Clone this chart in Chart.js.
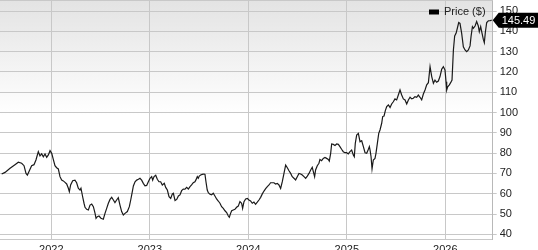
<!DOCTYPE html>
<html><head><meta charset="utf-8">
<script src="https://cdn.jsdelivr.net/npm/chart.js@4/dist/chart.umd.min.js"></script>
<style>html,body{margin:0;padding:0;background:#fff;overflow:hidden}#wrap{width:538px;height:250px;position:relative}</style>
</head><body><div id="wrap"><canvas id="c" width="538" height="250"></canvas></div>
<script>
// decimal years
const dates = [
2021.496,2021.530,2021.581,2021.631,2021.665,2021.699,2021.723,2021.743,2021.757,2021.777,2021.800,2021.824,2021.844,2021.868,2021.885,2021.902,2021.919,2021.936,2021.953,2021.970,2021.987,
2022.004,2022.020,2022.037,2022.054,2022.071,2022.088,2022.105,2022.122,2022.139,2022.156,2022.173,2022.183,2022.196,2022.217,2022.240,2022.257,2022.274,2022.291,2022.301,2022.318,2022.332,2022.342,2022.359,2022.376,2022.393,2022.410,2022.427,2022.444,2022.454,2022.467,2022.484,2022.504,2022.528,2022.545,2022.562,2022.579,2022.596,2022.613,2022.630,2022.646,2022.663,2022.680,2022.697,2022.714,2022.731,2022.748,2022.772,2022.792,2022.806,2022.819,2022.833,2022.850,2022.867,2022.884,2022.900,2022.917,2022.934,2022.951,2022.968,2022.985,
2023.002,2023.019,2023.029,2023.043,2023.060,2023.076,2023.093,2023.110,2023.127,2023.147,2023.161,2023.178,2023.195,2023.212,2023.229,2023.239,2023.256,2023.273,2023.290,
2023.306,2023.323,2023.340,2023.357,2023.374,2023.391,2023.408,2023.424,2023.441,2023.458,2023.468,2023.482,2023.492,2023.502,2023.516,2023.533,2023.550,2023.560,2023.570,2023.583,2023.594,2023.611,2023.627,2023.644,2023.661,2023.678,2023.695,2023.712,2023.729,2023.746,2023.763,2023.780,2023.797,2023.807,2023.820,2023.831,2023.847,2023.864,2023.881,2023.898,2023.915,2023.932,2023.942,2023.956,2023.973,2023.990,
2024.006,2024.023,2024.040,2024.057,2024.074,2024.091,2024.108,2024.125,2024.142,2024.159,2024.176,2024.193,2024.210,2024.226,2024.243,2024.260,2024.277,2024.294,2024.311,2024.328,2024.345,2024.362,2024.379,2024.396,2024.413,2024.430,2024.446,2024.463,2024.480,2024.497,2024.514,2024.531,2024.548,2024.565,2024.582,2024.599,2024.616,2024.633,2024.649,2024.660,2024.673,2024.683,2024.700,2024.717,2024.727,2024.744,2024.761,2024.778,2024.795,2024.812,2024.822,2024.836,2024.846,2024.863,2024.880,2024.897,2024.914,2024.930,2024.947,2024.964,2024.981,2024.998,
2025.015,2025.032,2025.049,2025.066,2025.076,2025.086,2025.100,2025.117,
2025.134,2025.151,2025.168,2025.185,2025.202,2025.219,2025.229,2025.236,2025.246,2025.256,2025.269,2025.286,2025.296,2025.310,2025.324,2025.337,2025.354,2025.364,2025.378,2025.391,2025.405,2025.422,2025.439,2025.455,2025.472,2025.489,2025.506,2025.523,2025.540,2025.557,2025.574,2025.591,2025.608,2025.625,2025.642,2025.659,2025.675,2025.692,2025.709,2025.726,2025.743,2025.760,2025.777,2025.794,2025.811,2025.828,2025.845,2025.862,2025.879,2025.895,2025.912,2025.929,2025.946,2025.963,2025.980,2025.997,
2026.007,2026.014,2026.024,2026.041,2026.054,2026.068,2026.082,2026.095,2026.109,2026.122,2026.136,2026.149,2026.166,2026.183,2026.200,2026.217,2026.234,2026.251,2026.261,2026.275,2026.285,2026.302,2026.318,2026.335,2026.345,2026.359,2026.373,2026.386,2026.396,2026.407,2026.420,2026.437,2026.454,2026.471
];
const prices = [
69.7,70.5,72.5,74.3,75.5,75.0,73.8,70.0,69.2,71.3,73.8,74.3,76.6,80.7,78.6,79.6,78.2,79.6,77.9,79.1,81.2,
79.9,76.9,73.8,72.8,72.2,68.4,66.7,66.3,65.6,64.8,62.7,61.0,64.3,66.4,66.7,65.4,62.7,61.8,62.7,58.5,55.3,53.3,52.3,52.0,54.4,54.9,53.6,50.3,47.9,48.7,49.0,47.9,47.4,50.3,52.8,55.3,57.2,58.2,56.9,55.6,56.9,58.0,54.4,51.2,49.5,50.3,51.2,53.6,56.9,60.2,63.8,65.9,66.7,67.1,67.6,66.7,65.1,63.9,64.1,65.9,
67.6,68.4,66.7,68.4,69.1,67.1,65.9,65.9,64.3,65.1,63.1,61.8,58.5,57.7,59.9,60.2,56.6,57.2,58.9,
59.4,61.5,62.3,62.2,63.1,62.3,63.5,64.3,65.4,65.9,66.8,68.4,67.6,68.7,69.2,69.5,69.7,69.5,65.9,61.8,60.5,59.7,59.4,60.2,58.9,57.4,56.4,55.3,53.6,52.8,51.6,50.7,49.0,48.4,50.3,51.6,52.0,52.3,53.3,53.9,56.1,55.3,52.8,56.1,57.4,57.7,
56.9,56.4,55.3,55.9,54.8,55.8,56.9,58.2,59.9,61.3,62.5,63.5,64.3,65.4,65.4,65.4,64.8,65.1,64.3,62.6,65.9,70.0,74.1,72.8,71.3,70.0,68.4,67.6,66.8,68.4,70.0,69.7,69.2,68.4,67.6,68.7,70.0,71.7,73.0,70.9,68.4,71.7,73.8,75.0,76.9,76.3,77.4,77.9,77.4,76.9,76.1,79.9,84.5,84.3,83.8,84.5,84.3,83.2,81.9,80.7,80.2,80.2,
79.6,80.7,81.5,79.1,78.2,84.8,88.9,89.7,
85.6,86.1,83.2,80.2,79.9,81.9,83.2,81.5,78.2,72.2,76.6,77.4,79.9,84.8,89.7,91.4,94.7,98.0,98.3,100.9,102.9,103.7,102.5,104.2,105.3,106.7,106.2,108.6,111.1,108.6,106.7,106.2,104.2,106.2,107.5,106.7,107.0,107.8,107.5,108.6,107.5,106.2,109.1,111.1,113.6,114.7,122.6,117.7,114.4,116.0,114.9,115.5,117.7,121.3,122.6,120.9,
115.2,111.1,112.7,113.6,114.7,116.0,130.8,137.7,139.0,141.5,144.3,143.9,139.0,132.4,130.8,130.0,130.8,132.8,137.4,142.3,141.5,142.6,144.8,142.6,139.8,142.3,139.0,136.0,134.4,139.8,144.3,145.2,145.2,145.49
];
const yearTicks = [2022, 2023, 2024, 2025, 2026];
const priceTicks = [40, 50, 60, 70, 80, 90, 100, 110, 120, 130, 140, 150];
const seriesLabel = 'Price ($)';
const lastPrice = 145.49;

const FONT = '"Liberation Sans", Arial, sans-serif';

const bgPlugin = {
  id: 'bg',
  beforeDraw(chart) {
    const {ctx, chartArea: a} = chart;
    ctx.save();
    ctx.fillStyle = '#ffffff';
    ctx.fillRect(0, 0, chart.width, chart.height);
    const g = ctx.createLinearGradient(0, a.top, 0, a.top + (a.bottom - a.top) * 0.48);
    g.addColorStop(0, '#e3e3e3');
    g.addColorStop(1, '#ffffff');
    ctx.fillStyle = g;
    ctx.fillRect(a.left, a.top, a.right - a.left, a.bottom - a.top);
    ctx.restore();
  },
  afterDraw(chart) {
    const {ctx, chartArea: a} = chart;
    ctx.save();
    ctx.strokeStyle = '#c8c8c8';
    ctx.lineWidth = 1;
    ctx.beginPath(); ctx.moveTo(a.left, a.top + 0.5); ctx.lineTo(a.right, a.top + 0.5); ctx.stroke();
    // legend
    ctx.fillStyle = '#000';
    ctx.fillRect(429, 9.5, 10, 5);
    ctx.fillStyle = '#222';
    ctx.font = '11px ' + FONT;
    ctx.textBaseline = 'middle';
    ctx.textAlign = 'left';
    ctx.fillText(seriesLabel, 444, 12);
    // last price tag
    const y = chart.scales.y.getPixelForValue(lastPrice);
    const x0 = a.right;
    ctx.fillStyle = '#000';
    ctx.beginPath();
    ctx.moveTo(x0, y);
    ctx.lineTo(x0 + 6, y - 7.5);
    ctx.lineTo(chart.width, y - 7.5);
    ctx.lineTo(chart.width, y + 7.5);
    ctx.lineTo(x0 + 6, y + 7.5);
    ctx.closePath();
    ctx.fill();
    ctx.fillStyle = '#fff';
    ctx.fillText(lastPrice.toFixed(2), x0 + 9, y + 0.5);
    ctx.restore();
  }
};

new Chart(document.getElementById('c'), {
  type: 'line',
  data: {
    datasets: [{
      label: seriesLabel,
      data: dates.map((d, i) => ({x: d, y: prices[i]})),
      borderColor: '#1a1a1a',
      borderWidth: 1.2,
      pointRadius: 0,
      tension: 0,
      fill: false
    }]
  },
  options: {
    responsive: false,
    devicePixelRatio: 1,
    animation: false,
    layout: {padding: 0},
    plugins: {legend: {display: false}, tooltip: {enabled: false}},
    scales: {
      x: {
        type: 'linear',
        min: 2021.479,
        max: 2026.481,
        afterBuildTicks: s => { s.ticks = yearTicks.map(v => ({value: v})); },
        afterFit: s => { s.height = 10.5; s.paddingLeft = 0; s.paddingRight = 0; },
        ticks: {
          callback: v => String(v),
          color: '#222',
          font: {family: FONT, size: 11},
          padding: 4,
          maxRotation: 0,
          autoSkip: false
        },
        grid: {color: '#c8c8c8', drawTicks: false},
        border: {display: true, color: '#c8c8c8'}
      },
      y: {
        position: 'right',
        min: 37.44,
        max: 155.42,
        afterBuildTicks: s => { s.ticks = priceTicks.map(v => ({value: v})); },
        afterFit: s => { s.width = 45.3; s.paddingTop = 0; s.paddingBottom = 0; },
        ticks: {
          callback: v => String(v),
          color: '#222',
          font: {family: FONT, size: 11},
          padding: 3
        },
        grid: {color: '#c8c8c8', tickLength: 4},
        border: {display: true, color: '#b8b8b8'}
      }
    }
  },
  plugins: [bgPlugin]
});
</script>
</body></html>
